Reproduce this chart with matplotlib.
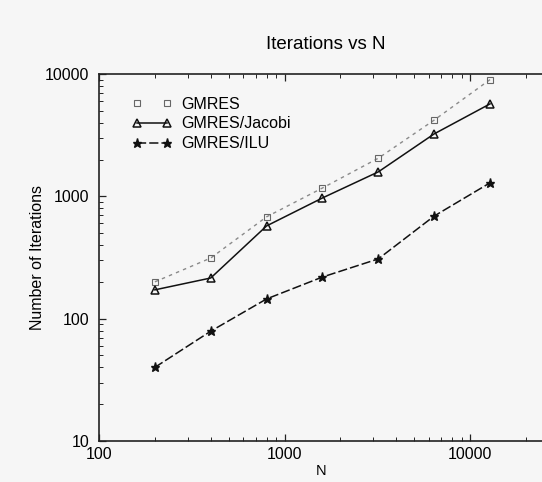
import matplotlib
matplotlib.use("Agg")
import matplotlib.pyplot as plt
from matplotlib.ticker import LogLocator, NullFormatter, FixedLocator, FixedFormatter

plt.rcParams['font.family'] = ['Liberation Sans', 'DejaVu Sans']

N = [200, 400, 800, 1600, 3200, 6400, 12800]
gmres = [200, 313, 680, 1170, 2050, 4200, 9000]
gmres_jacobi = [172, 215, 573, 970, 1585, 3240, 5700]
gmres_ilu = [40, 79, 145, 219, 308, 690, 1290]

bg = '#f6f6f6'
fig = plt.figure(figsize=(5.42, 4.82), dpi=100, facecolor=bg)
ax = fig.add_axes([99 / 542, 41 / 482, 445 / 542, 367 / 482], facecolor=bg)

ax.plot(N, gmres, linestyle=(0, (2.5, 3)), color='#8a8a8a', linewidth=1.0,
        marker='s', markersize=5, markerfacecolor='none', markeredgecolor='#666666',
        markeredgewidth=0.8, label='GMRES')
ax.plot(N, gmres_jacobi, linestyle='-', color='#111111', linewidth=1.1,
        marker='^', markersize=6, markerfacecolor='none', markeredgecolor='#111111',
        markeredgewidth=1.1, label='GMRES/Jacobi')
ax.plot(N, gmres_ilu, linestyle=(0, (6, 2)), color='#111111', linewidth=1.1,
        marker='*', markersize=6.5, markerfacecolor='#111111', markeredgecolor='#111111',
        label='GMRES/ILU')

ax.set_xscale('log')
ax.set_yscale('log')
ax.set_xlim(100, 25000)
ax.set_ylim(10, 10000)

ax.xaxis.set_major_locator(FixedLocator([100, 1000, 10000]))
ax.xaxis.set_major_formatter(FixedFormatter(['100', '1000', '10000']))
ax.yaxis.set_major_locator(FixedLocator([10, 100, 1000, 10000]))
ax.yaxis.set_major_formatter(FixedFormatter(['10', '100', '1000', '10000']))
ax.xaxis.set_minor_locator(LogLocator(base=10, subs=range(2, 10)))
ax.yaxis.set_minor_locator(LogLocator(base=10, subs=range(2, 10)))
ax.xaxis.set_minor_formatter(NullFormatter())
ax.yaxis.set_minor_formatter(NullFormatter())

ax.tick_params(which='both', direction='in', top=True, right=False, color='#222222')
ax.tick_params(which='major', length=5, width=0.9, labelsize=11.5)
ax.tick_params(axis='y', which='major', pad=7)
ax.tick_params(axis='x', which='major', pad=4)
ax.tick_params(which='minor', length=3, width=0.7)
for s in ax.spines.values():
    s.set_linewidth(1.2)
    s.set_color('#222222')
ax.spines['right'].set_visible(False)

ax.set_xlabel('N', fontsize=10.5, labelpad=2)
ax.set_ylabel('Number of Iterations', fontsize=11.5, labelpad=0)
ax.set_title('Iterations vs N', fontsize=13.5, pad=18, x=0.51)

leg = ax.legend(loc='upper left', bbox_to_anchor=(0.061, 0.956), frameon=False,
                fontsize=11.5, handlelength=2.45, handletextpad=0.6,
                labelspacing=0.31, borderaxespad=0, numpoints=2)
# GMRES legend entry shows only its two markers
leg.get_lines()[0].set_linestyle('none')

fig.savefig('out.png', dpi=100, facecolor=bg)
